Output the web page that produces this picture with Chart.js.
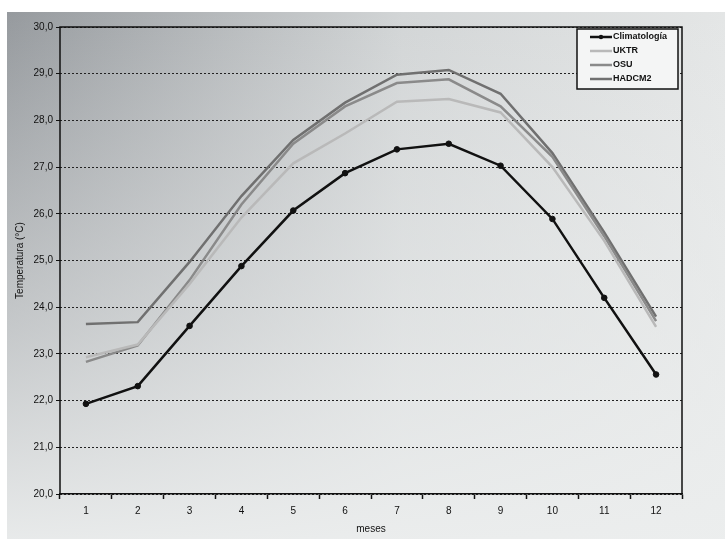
<!DOCTYPE html>
<html>
<head>
<meta charset="utf-8">
<script src="https://cdn.jsdelivr.net/npm/chart.js@4.4.1/dist/chart.umd.min.js"></script>
<style>
  html, body { margin: 0; padding: 0; background: #fff; }
</style>
</head>
<body>
<canvas id="graficoTemp" width="725" height="539"></canvas>
<script>
// datos
const meses = ['1','2','3','4','5','6','7','8','9','10','11','12'];
const climatologia = [21.93, 22.31, 23.6, 24.88, 26.07, 26.87, 27.38, 27.5, 27.03, 25.89, 24.2, 22.56];
const uktr   = [22.93, 23.2, 24.5, 25.92, 27.08, 27.72, 28.4, 28.46, 28.17, 27.0, 25.42, 23.58];
const osu    = [22.83, 23.18, 24.58, 26.2, 27.5, 28.3, 28.8, 28.88, 28.3, 27.22, 25.52, 23.7];
const hadcm2 = [23.64, 23.68, 24.97, 26.38, 27.58, 28.38, 28.98, 29.08, 28.57, 27.3, 25.6, 23.8];
const yMin = 20, yMax = 30, yPaso = 1;

const fuente = "'Liberation Sans', Arial, sans-serif";

// fondo gris degradado
const fondo = {
  id: 'fondo',
  beforeDraw(chart) {
    const ctx = chart.ctx;
    const w = chart.width, h = chart.height;
    ctx.save();
    ctx.fillStyle = '#ffffff';
    ctx.fillRect(0, 0, w, h);
    const g1 = ctx.createLinearGradient(7, 0, w, 0);
    g1.addColorStop(0, '#969a9e');
    g1.addColorStop(0.55, '#d2d5d6');
    g1.addColorStop(1, '#e4e6e6');
    ctx.fillStyle = g1;
    ctx.fillRect(7, 12, w - 7, h - 12);
    const g2 = ctx.createLinearGradient(0, 12, 0, h);
    g2.addColorStop(0, 'rgba(240,242,242,0)');
    g2.addColorStop(0.6, 'rgba(236,238,238,0.55)');
    g2.addColorStop(1, 'rgba(236,238,238,0.95)');
    ctx.fillStyle = g2;
    ctx.fillRect(7, 12, w - 7, h - 12);
    ctx.restore();
  }
};

// marco y leyenda en recuadro
const marco = {
  id: 'marco',
  afterDraw(chart) {
    const ctx = chart.ctx;
    const a = chart.chartArea;
    ctx.save();
    ctx.setLineDash([]);
    ctx.strokeStyle = '#111';
    ctx.lineWidth = 1.5;
    ctx.beginPath();
    ctx.moveTo(a.left, a.bottom);
    ctx.lineTo(a.left, a.top);
    ctx.lineTo(a.right, a.top);
    ctx.lineTo(a.right, a.bottom);
    ctx.stroke();

    // leyenda
    const bx = 577, by = 29, bw = 101, bh = 60;
    ctx.fillStyle = '#f4f5f5';
    ctx.fillRect(bx, by, bw, bh);
    ctx.strokeStyle = '#111';
    ctx.lineWidth = 1.5;
    ctx.strokeRect(bx, by, bw, bh);
    ctx.font = 'bold 9px ' + fuente;
    ctx.textBaseline = 'middle';
    chart.data.datasets.forEach((ds, i) => {
      const y = by + 8 + i * 14;
      ctx.strokeStyle = ds.borderColor;
      ctx.lineWidth = 2.5;
      ctx.beginPath();
      ctx.moveTo(bx + 13, y);
      ctx.lineTo(bx + 35, y);
      ctx.stroke();
      if (ds.pointRadius > 0) {
        ctx.fillStyle = ds.borderColor;
        ctx.beginPath();
        ctx.arc(bx + 24, y, 2.2, 0, Math.PI * 2);
        ctx.fill();
      }
      ctx.fillStyle = '#111';
      ctx.fillText(ds.label, bx + 36, y);
    });
    ctx.restore();
  }
};

const ctx = document.getElementById('graficoTemp').getContext('2d');
new Chart(ctx, {
  type: 'line',
  data: {
    labels: meses,
    datasets: [
      { label: 'Climatología', data: climatologia, borderColor: '#111111', backgroundColor: '#111111',
        borderWidth: 2.5, pointRadius: 2.8, pointBorderWidth: 1, pointBackgroundColor: '#111111', tension: 0 },
      { label: 'UKTR', data: uktr, borderColor: '#b9b9b9', borderWidth: 2.5, pointRadius: 0, tension: 0 },
      { label: 'OSU', data: osu, borderColor: '#8a8a8a', borderWidth: 2.5, pointRadius: 0, tension: 0 },
      { label: 'HADCM2', data: hadcm2, borderColor: '#707070', borderWidth: 2.5, pointRadius: 0, tension: 0 }
    ]
  },
  options: {
    responsive: false,
    animation: false,
    layout: { padding: { top: 27, right: 43, left: 8, bottom: 0 } },
    plugins: {
      legend: { display: false },
      tooltip: { enabled: false }
    },
    scales: {
      x: {
        offset: true,
        grid: { display: true, offset: true, drawOnChartArea: false, drawTicks: true,
                tickLength: 5, tickColor: '#111', tickWidth: 1.5 },
        border: { display: true, color: '#111', width: 1.5 },
        ticks: { color: '#111', font: { family: fuente, size: 10 }, padding: 6, maxRotation: 0 },
        title: { display: true, text: 'meses', color: '#111', font: { family: fuente, size: 10 }, padding: { top: 2, bottom: 4 } },
        afterFit(scale) { scale.height = 45; }
      },
      y: {
        min: yMin,
        max: yMax,
        ticks: { stepSize: yPaso, color: '#111', font: { family: fuente, size: 10 }, padding: 3,
                 callback: v => v.toFixed(1).replace('.', ',') },
        grid: { color: '#222', lineWidth: 1, tickLength: 4, tickColor: '#111', tickBorderDash: [0, 0] },
        border: { display: false, dash: [2, 2] },
        title: { display: true, text: 'Temperatura (°C)', color: '#111', font: { family: fuente, size: 10 }, padding: 6 },
        afterFit(scale) { scale.width = 52; }
      }
    }
  },
  plugins: [fondo, marco]
});
</script>
</body>
</html>
